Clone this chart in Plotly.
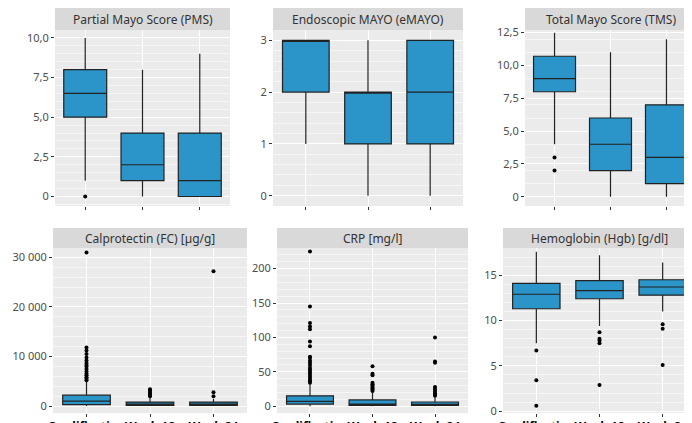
import plotly.graph_objects as go
from plotly.subplots import make_subplots

W, H = 692, 423
BOX = '#2B94C8'
PANEL = '#EBEBEB'
STRIP = '#D9D9D9'
TEXT = '#4D4D4D'

visits = ['Qualification', 'Week 12', 'Week 24']
titles = ['Partial Mayo Score (PMS)', 'Endoscopic MAYO (eMAYO)', 'Total Mayo Score (TMS)',
          'Calprotectin (FC) [µg/g]', 'CRP [mg/l]', 'Hemoglobin (Hgb) [g/dl]']

# box stats per panel: lower fence, q1, median, q3, upper fence (per visit)
pms_stats = [[1, 5, 6.5, 8, 10], [0, 1, 2, 4, 8], [0, 0, 1, 4, 9]]
emayo_stats = [[1, 2, 3, 3, 3], [0, 1, 2, 2, 3], [0, 1, 2, 3, 3]]
tms_stats = [[4, 8, 9, 10.7, 12.5], [0, 2, 4, 6, 11], [0, 1, 3, 7, 12]]
fc_stats = [[0, 300, 1000, 2200, 5000], [0, 150, 400, 800, 1800], [0, 150, 400, 800, 1500]]
crp_stats = [[0, 3, 7, 15, 32], [0, 1, 3, 9, 20], [0, 1, 2, 6, 13]]
hgb_stats = [[7.5, 11.3, 12.9, 14.1, 17.6], [9.4, 12.4, 13.3, 14.4, 17.2], [11, 12.8, 13.7, 14.5, 16.4]]

# outliers per visit
pms_out = [[0], [], []]
emayo_out = [[], [], []]
tms_out = [[3, 2], [], []]
fc_out = [[5200, 5500, 5800, 6200, 6500, 7000, 7500, 8000, 8300, 8700, 9200, 9800, 10500, 11200, 11800, 31000],
          [2000, 2300, 2600, 2900, 3200, 3400],
          [2000, 2800, 27200]]
crp_out = [[34, 36, 38, 41, 44, 47, 50, 53, 56, 60, 63, 66, 70, 72, 87, 94, 112, 116, 121, 145, 225],
           [22, 24, 26, 28, 30, 32, 34, 45, 47, 58],
           [15, 17, 19, 22, 25, 28, 63, 65, 100]]
hgb_out = [[6.7, 3.4, 0.6], [8.7, 8.0, 7.8, 7.5, 2.9], [9.6, 9.1, 5.1]]

panels = [
    (pms_stats, pms_out, [-0.6, 10.5], [0, 2.5, 5, 7.5, 10], ['0', '2,5', '5,0', '7,5', '10,0']),
    (emayo_stats, emayo_out, [-0.2, 3.2], [0, 1, 2, 3], ['0', '1', '2', '3']),
    (tms_stats, tms_out, [-0.7, 12.7], [0, 2.5, 5, 7.5, 10, 12.5], ['0', '2,5', '5,0', '7,5', '10,0', '12,5']),
    (fc_stats, fc_out, [-1400, 31900], [0, 10000, 20000, 30000], ['0', '10 000', '20 000', '30 000']),
    (crp_stats, crp_out, [-10, 230], [0, 50, 100, 150, 200], ['0', '50', '100', '150', '200']),
    (hgb_stats, hgb_out, [-0.2, 18], [0, 5, 10, 15], ['0', '5', '10', '15']),
]

# panel pixel boxes (x0, x1, y0, y1) from top-left
px_boxes = [(47, 222, 22, 198), (265, 455, 22, 198), (517, 688, 22, 198),
            (45, 239, 240, 405), (269, 460, 240, 405), (495, 688, 240, 405)]

fig = make_subplots(rows=2, cols=3)

for i, (stats, outs, rng, tv, tt) in enumerate(panels):
    r, c = i // 3 + 1, i % 3 + 1
    fig.add_trace(go.Box(
        x=visits,
        lowerfence=[s[0] for s in stats], q1=[s[1] for s in stats],
        median=[s[2] for s in stats], q3=[s[3] for s in stats],
        upperfence=[s[4] for s in stats],
        fillcolor=BOX, line=dict(color='#222222', width=1.2),
        whiskerwidth=0, width=0.75, showlegend=False, hoverinfo='skip',
    ), row=r, col=c)
    ox, oy = [], []
    for v, vals in zip(visits, outs):
        ox += [v] * len(vals)
        oy += vals
    if oy:
        fig.add_trace(go.Scatter(x=ox, y=oy, mode='markers',
                                 marker=dict(color='black', size=4),
                                 showlegend=False), row=r, col=c)
    x0, x1, y0, y1 = px_boxes[i]
    fig.update_xaxes(domain=[x0 / W, x1 / W], showgrid=True, gridcolor='white', gridwidth=1.2,
                     showticklabels=(r == 2), ticks='outside', ticklen=3, tickcolor='#333',
                     tickangle=0, automargin=False,
                     tickfont=dict(size=12, color='black', family='Noto Sans', weight='bold'),
                     zeroline=False, row=r, col=c)
    fig.update_yaxes(domain=[1 - y1 / H, 1 - y0 / H], range=rng, tickvals=tv, ticktext=tt,
                     showgrid=True, gridcolor='white', gridwidth=1.2, automargin=False,
                     minor=dict(showgrid=True, gridcolor='#F6F6F6', gridwidth=0.6),
                     ticks='outside', ticklen=3, tickcolor='#333',
                     tickfont=dict(size=11, color=TEXT, family='Noto Sans'),
                     zeroline=False, row=r, col=c)
    sh = 22 if r == 1 else 20
    fig.add_shape(type='rect', xref='paper', yref='paper',
                  x0=x0 / W, x1=x1 / W, y0=1 - y0 / H, y1=1 - (y0 - sh) / H,
                  fillcolor=STRIP, line_width=0, layer='below')
    fig.add_annotation(text=titles[i], xref='paper', yref='paper',
                       x=(x0 + x1) / 2 / W, y=1 - (y0 - sh / 2) / H,
                       xanchor='center', yanchor='middle',
                       showarrow=False, font=dict(size=12, color='#333', family='Noto Sans'))

fig.update_layout(
    width=W, height=H, margin=dict(l=0, r=0, t=0, b=0),
    plot_bgcolor=PANEL, paper_bgcolor='white',
    font=dict(family='Noto Sans'),
)

fig.write_html('out.html')
